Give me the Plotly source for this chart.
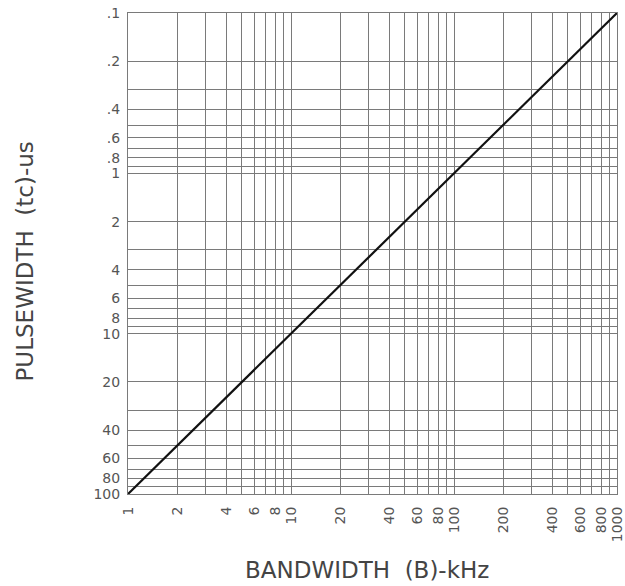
import plotly.graph_objects as go

# Data: pulsewidth vs bandwidth (tc = 100/B)
bandwidth_khz = [1, 1000]
pulsewidth_us = [100, 0.1]

x_label_vals = [1, 2, 4, 6, 8, 10, 20, 40, 60, 80, 100, 200, 400, 600, 800, 1000]
x_label_text = ["1", "2", "4", "6", "8", "10", "20", "40", "60", "80",
                "100", "200", "400", "600", "800", "1000"]
y_label_vals = [0.1, 0.2, 0.4, 0.6, 0.8, 1, 2, 4, 6, 8, 10, 20, 40, 60, 80, 100]
y_label_text = [".1", ".2", ".4", ".6", ".8", "1", "2", "4", "6", "8",
                "10", "20", "40", "60", "80", "100"]

def grid_vals(decades):
    vals = []
    for d in decades:
        for m in range(1, 10):
            vals.append(round(m * d, 6))
    vals.append(round(10 * decades[-1], 6))
    return vals

xgrid = grid_vals([1, 10, 100])
ygrid = grid_vals([0.1, 1, 10])

def labels_for(grid, vals, texts):
    out = []
    for g in grid:
        hit = ""
        for v, t in zip(vals, texts):
            if abs(v - g) < 1e-9 * max(1, g):
                hit = t
        out.append(hit)
    return out

xtext = labels_for(xgrid, x_label_vals, x_label_text)
ytext = labels_for(ygrid, y_label_vals, y_label_text)

fig = go.Figure()
fig.add_trace(go.Scatter(x=bandwidth_khz, y=pulsewidth_us, mode="lines",
                         line=dict(color="#111111", width=2.2),
                         showlegend=False, hoverinfo="skip", cliponaxis=False))

tick_font = dict(family="DejaVu Sans", size=14, color="#555555")
grid_color = "#7a7a7a"

fig.update_layout(
    width=625, height=586,
    margin=dict(l=128, r=8, t=13, b=92, autoexpand=False),
    paper_bgcolor="white", plot_bgcolor="white",
    xaxis=dict(type="log", range=[0, 3], tickmode="array",
               tickvals=xgrid, ticktext=xtext, tickangle=-90,
               tickfont=tick_font, showgrid=True, gridcolor=grid_color,
               gridwidth=1, zeroline=False, ticks="", ticklabelstandoff=6,
               ticklabeloverflow="allow", automargin=False,
               showline=True, linecolor=grid_color, linewidth=1, mirror=True),
    yaxis=dict(type="log", range=[2, -1], tickmode="array",
               tickvals=ygrid, ticktext=ytext,
               tickfont=tick_font, showgrid=True, gridcolor=grid_color,
               gridwidth=1, zeroline=False, ticks="", ticklabelstandoff=4,
               ticklabeloverflow="allow", automargin=False,
               showline=True, linecolor=grid_color, linewidth=1, mirror=True),
    annotations=[
        dict(text="BANDWIDTH  (B)-kHz", xref="paper", yref="paper",
             x=0.489, y=-0.158, xanchor="center", yanchor="middle",
             showarrow=False,
             font=dict(family="DejaVu Sans", size=23, color="#444444")),
        dict(text="PULSEWIDTH  (tc)-us", xref="paper", yref="paper",
             x=-0.21, y=0.484, xanchor="center", yanchor="middle",
             textangle=-90, showarrow=False,
             font=dict(family="DejaVu Sans", size=23, color="#444444")),
    ],
)

fig.write_html("out.html")
